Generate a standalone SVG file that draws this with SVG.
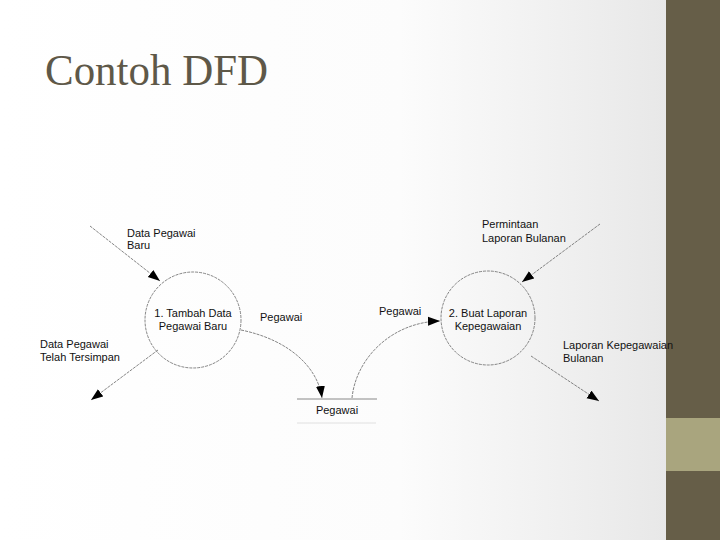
<svg xmlns="http://www.w3.org/2000/svg" width="720" height="540" viewBox="0 0 720 540">
<defs>
<linearGradient id="bg" x1="0" y1="0" x2="1" y2="0">
<stop offset="0" stop-color="#ffffff"/>
<stop offset="0.6" stop-color="#fcfcfc"/>
<stop offset="1" stop-color="#e8e8e8"/>
</linearGradient>
<marker id="ah" viewBox="0 0 12 10" refX="12" refY="5" markerWidth="12" markerHeight="10" markerUnits="userSpaceOnUse" orient="auto">
<path d="M0,0.5 L12,5 L0,9.5 Z" fill="#000"/>
</marker>
<style>
.t{font-family:"Liberation Sans",Arial,sans-serif;font-size:11px;fill:#111}
.c{text-anchor:middle}
.ln{fill:none;stroke:#666;stroke-width:0.8;stroke-dasharray:3 1}
.proc{fill:none;stroke:#666;stroke-width:0.8;stroke-dasharray:3 1}
</style>
</defs>
<rect x="0" y="0" width="666" height="540" fill="url(#bg)"/>
<rect x="666" y="0" width="54" height="540" fill="#665e48"/>
<rect x="666" y="418" width="54" height="53" fill="#a9a57e"/>
<text x="45" y="85" font-family="'Liberation Serif','Times New Roman',serif" font-size="44" fill="#5e5848" textLength="223" lengthAdjust="spacingAndGlyphs">Contoh DFD</text>

<g id="connectors">
<line class="ln" x1="90" y1="226" x2="160" y2="281" marker-end="url(#ah)"/>
<line class="ln" x1="158" y1="350" x2="91" y2="400" marker-end="url(#ah)"/>
<path class="ln" d="M241,330 C290,340 318,368 322,398" marker-end="url(#ah)"/>
<path class="ln" d="M352,398 C356,358 392,322 440,321" marker-end="url(#ah)"/>
<line class="ln" x1="600" y1="224" x2="522" y2="282" marker-end="url(#ah)"/>
<line class="ln" x1="531" y1="356" x2="599" y2="401" marker-end="url(#ah)"/>
</g>

<g id="p1">
<circle class="proc" cx="193" cy="320" r="48"/>
<text class="t c" x="193" y="317">1. Tambah Data</text>
<text class="t c" x="193" y="330">Pegawai Baru</text>
</g>
<g id="p2">
<circle class="proc" cx="488" cy="318" r="47"/>
<text class="t c" x="488" y="317">2. Buat Laporan</text>
<text class="t c" x="488" y="330">Kepegawaian</text>
</g>
<g id="store">
<line x1="297" y1="399" x2="377" y2="399" stroke="#888" stroke-width="1"/>
<line x1="297" y1="423" x2="376" y2="423" stroke="#e0e0e0" stroke-width="1"/>
<text class="t c" x="337" y="414">Pegawai</text>
</g>

<g id="labels">
<text class="t" x="127" y="237">Data Pegawai</text>
<text class="t" x="127" y="249">Baru</text>
<text class="t" x="40" y="348">Data Pegawai</text>
<text class="t" x="40" y="361">Telah Tersimpan</text>
<text class="t" x="260" y="321">Pegawai</text>
<text class="t" x="379" y="315">Pegawai</text>
<text class="t" x="482" y="228">Permintaan</text>
<text class="t" x="482" y="242">Laporan Bulanan</text>
<text class="t" x="563" y="349">Laporan Kepegawaian</text>
<text class="t" x="563" y="362">Bulanan</text>
</g>
</svg>
